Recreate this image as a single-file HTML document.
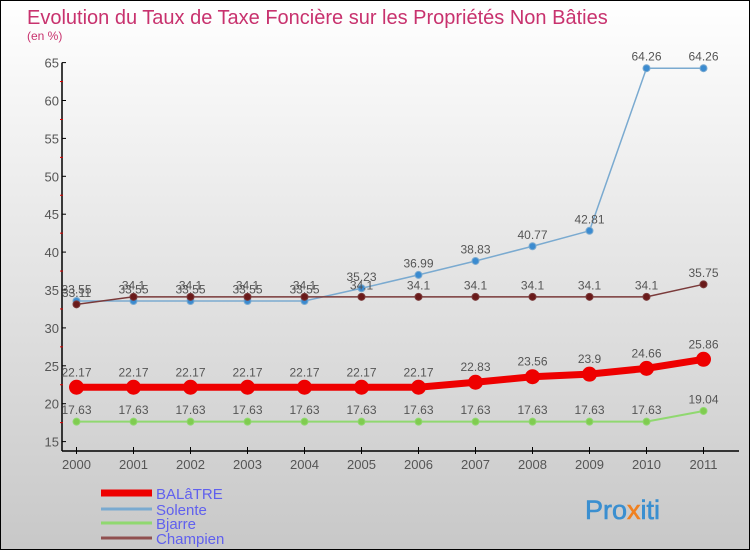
<!DOCTYPE html>
<html><head><meta charset="utf-8"><style>
body{margin:0}
#c{width:748px;height:548px;border:1px solid #000;background:linear-gradient(#fff,#c8c8c8);position:relative;font-family:"Liberation Sans","DejaVu Sans",sans-serif;overflow:hidden}
</style></head><body>
<div id="c">
<svg id="s" width="748" height="548" style="position:absolute;left:0;top:0">
<text x="26" y="23" font-size="20" fill="#c8326e">Evolution du Taux de Taxe Foncière sur les Propriétés Non Bâties</text>
<text x="26" y="39" font-size="12" fill="#c8326e">(en %)</text>
<g id="axes"></g><g id="series"></g><g id="legend"></g>
<text x="584" y="518" font-size="27" font-weight="normal" fill="#3a8fd0" stroke="#3a8fd0" stroke-width="0.6">Pro<tspan fill="#f08020" stroke="#f08020">x</tspan>iti</text>
</svg>
</div>
<script>
const years=["2000","2001","2002","2003","2004","2005","2006","2007","2008","2009","2010","2011"];
const yTicks=[15,20,25,30,35,40,45,50,55,60,65];
const balatre=[22.17,22.17,22.17,22.17,22.17,22.17,22.17,22.83,23.56,23.9,24.66,25.86];
const solente=[33.55,33.55,33.55,33.55,33.55,35.23,36.99,38.83,40.77,42.81,64.26,64.26];
const bjarre=[17.63,17.63,17.63,17.63,17.63,17.63,17.63,17.63,17.63,17.63,17.63,19.04];
const champien=[33.11,34.1,34.1,34.1,34.1,34.1,34.1,34.1,34.1,34.1,34.1,35.75];
const seriesNames=["BALâTRE","Solente","Bjarre","Champien"];
const NS="http://www.w3.org/2000/svg";
const xs=i=>75.5+i*57;
const ys=v=>289-(v-35)*7.58;
function mk(tag,attrs,parent,txt){const e=document.createElementNS(NS,tag);for(const k in attrs)e.setAttribute(k,attrs[k]);if(txt!==undefined)e.textContent=txt;parent.appendChild(e);return e;}
const ax=document.getElementById('axes');
let e=mk('line',{x1:61,y1:ys(65),x2:61,y2:450,stroke:'#000','stroke-width':1.5},ax);

e=mk('line',{x1:61,y1:450,x2:738,y2:450,stroke:'#000','stroke-width':1.5},ax);

yTicks.forEach(v=>{
  mk('line',{x1:61,y1:ys(v),x2:65,y2:ys(v),stroke:'#000'},ax);
  if(v<65)mk('line',{x1:59,y1:ys(v+2.5),x2:62,y2:ys(v+2.5),stroke:'#d00'},ax);
  const t=mk('text',{x:58,y:ys(v)+5,'font-size':13,fill:'#555','text-anchor':'end'},ax,String(v));
  
});
years.forEach((y,i)=>{
  mk('line',{x1:xs(i),y1:446,x2:xs(i),y2:453,stroke:'#000'},ax);
  const t=mk('text',{x:xs(i),y:468,'font-size':13,fill:'#555','text-anchor':'middle'},ax,y);
  
});
const sg=document.getElementById('series');
function drawSeries(data,color,lw,r,name,fill){
  const g=mk('g',{},sg);
  
  mk('polyline',{points:data.map((v,i)=>xs(i)+','+ys(v)).join(' '),fill:'none',stroke:color,'stroke-width':lw},g);
  data.forEach((v,i)=>{
    const c=mk('circle',{cx:xs(i),cy:ys(v),r:r,fill:fill,stroke:color,'stroke-width':1},g);
    
    const t=mk('text',{x:xs(i),y:ys(v)-r-4,'font-size':12,fill:'#555','text-anchor':'middle'},g,String(v));
    
  });
}
drawSeries(bjarre,'#90d870',2,3.5,'bjarre-series','#80cc50');
drawSeries(solente,'#7aaad0',1.5,3.5,'solente-series','#3b8bd0');
drawSeries(champien,'#7a3a3a',1.5,3.5,'champien-series','#6a1a1a');
drawSeries(balatre,'#ee0000',7,7,'balatre-series','#ee0000');
const lg=document.getElementById('legend');
const lc=['#ee0000','#7aaad0','#90d870','#905050'],lw=[7,3,3,3],ly=[492,508,522,537];
seriesNames.forEach((n,i)=>{
  const g=mk('g',{},lg);
  
  mk('line',{x1:100,y1:ly[i],x2:151,y2:ly[i],stroke:lc[i],'stroke-width':lw[i]},g);
  mk('text',{x:155,y:ly[i]+6,'font-size':15,fill:'#6060ee'},g,n);
});
</script>
</body></html>
